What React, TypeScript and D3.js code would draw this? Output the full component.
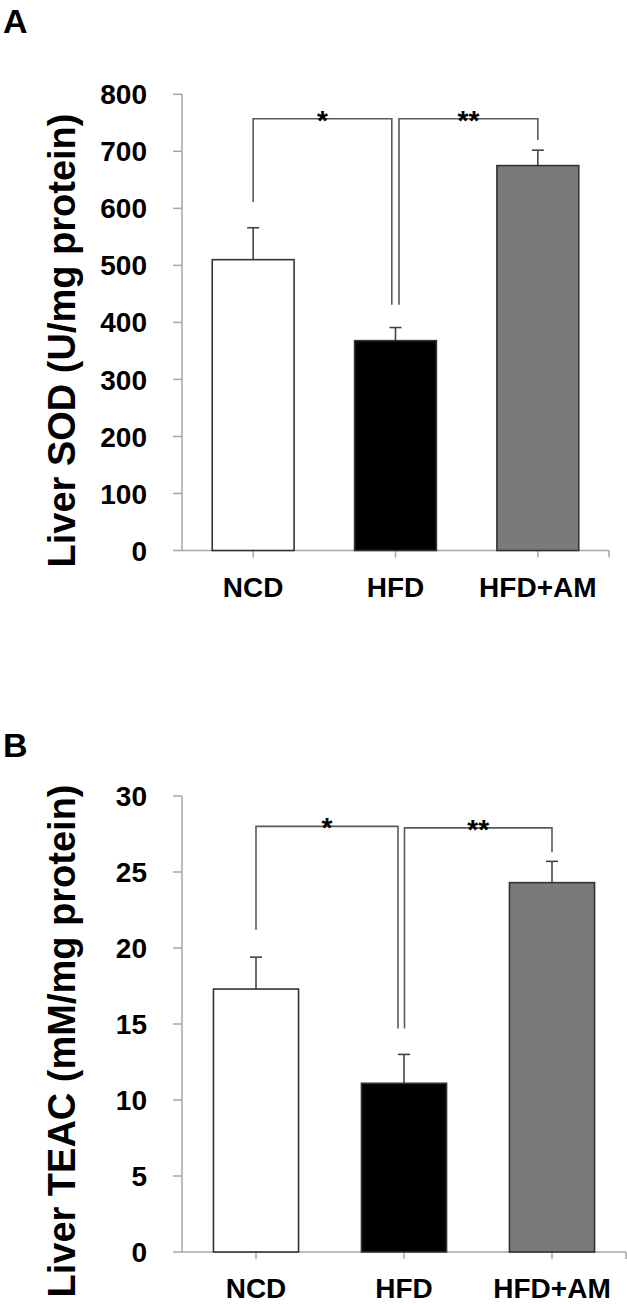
import React from "react";
import * as d3 from "d3";

const categories = ["NCD", "HFD", "HFD+AM"];

// Panel A: Liver SOD (U/mg protein)
const sodMeans = [510, 368, 675];
const sodErrors = [56, 23, 27];
const sodTicks = [0, 100, 200, 300, 400, 500, 600, 700, 800];

// Panel B: Liver TEAC (mM/mg protein)
const teacMeans = [17.3, 11.1, 24.3];
const teacErrors = [2.1, 1.9, 1.4];
const teacTicks = [0, 5, 10, 15, 20, 25, 30];

// significance brackets: [from, to, top value, left-end value, right-end value, label]
const sodBrackets: [number, number, number, number, number, string][] = [
  [0, 1, 757, 611, 431, "*"],
  [1, 2, 757, 431, 720, "**"],
];
const teacBrackets: [number, number, number, number, number, string][] = [
  [0, 1, 28.0, 21.2, 14.7, "*"],
  [1, 2, 27.9, 14.7, 26.3, "**"],
];

const barFills = ["#ffffff", "#000000", "#7a7a7a"];
const FONT = "'Liberation Sans', Arial, Helvetica, sans-serif";

type PanelProps = {
  letter: string;
  letterY: number;
  title: string;
  means: number[];
  errors: number[];
  ticks: number[];
  brackets: [number, number, number, number, number, string][];
  yTop: number;
  yBottom: number;
  xLeft: number;
  xRight: number;
  titleCenterY: number;
  dblOffsets: [number, number];
};

function Panel(p: PanelProps) {
  const maxV = p.ticks[p.ticks.length - 1];
  const y = d3.scaleLinear().domain([0, maxV]).range([p.yBottom, p.yTop]);
  const x = d3.scaleBand<string>().domain(categories).range([p.xLeft, p.xRight]).padding(0);
  const bw = x.bandwidth() * 0.575;
  const cx = (c: string) => (x(c) as number) + x.bandwidth() / 2;
  const axisColor = "#a6a6a6";
  const lineColor = "#5a5a5a";
  return (
    <g>
      <text x={3} y={p.letterY} fontFamily={FONT} fontWeight="bold" fontSize={34} fill="#000">
        {p.letter}
      </text>
      {/* y axis */}
      <line x1={p.xLeft} x2={p.xLeft} y1={y(maxV)} y2={y(0)} stroke={axisColor} strokeWidth={1.5} />
      {p.ticks.map((t) => (
        <g key={t}>
          <line x1={p.xLeft - 9} x2={p.xLeft} y1={y(t)} y2={y(t)} stroke={axisColor} strokeWidth={1.5} />
          <text
            x={p.xLeft - 35}
            y={y(t)}
            dy="0.36em"
            textAnchor="end"
            fontFamily={FONT}
            fontWeight="bold"
            fontSize={28}
            fill="#000"
          >
            {t}
          </text>
        </g>
      ))}
      {/* x axis */}
      <line x1={p.xLeft} x2={p.xRight} y1={y(0)} y2={y(0)} stroke={axisColor} strokeWidth={1.5} />
      {categories.map((c) => (
        <line key={c} x1={cx(c)} x2={cx(c)} y1={y(0)} y2={y(0) + 7} stroke={axisColor} strokeWidth={1.5} />
      ))}
      <line x1={p.xRight} x2={p.xRight} y1={y(0)} y2={y(0) + 7} stroke={axisColor} strokeWidth={1.5} />
      {categories.map((c) => (
        <text
          key={c}
          x={cx(c)}
          y={y(0) + 36}
          dy="0.36em"
          textAnchor="middle"
          fontFamily={FONT}
          fontWeight="bold"
          fontSize={28}
          fill="#000"
        >
          {c}
        </text>
      ))}
      {/* bars */}
      {categories.map((c, i) => (
        <g key={c}>
          <line
            x1={cx(c)}
            x2={cx(c)}
            y1={y(p.means[i])}
            y2={y(p.means[i] + p.errors[i])}
            stroke="#444"
            strokeWidth={1.6}
          />
          <line
            x1={cx(c) - 6}
            x2={cx(c) + 6}
            y1={y(p.means[i] + p.errors[i])}
            y2={y(p.means[i] + p.errors[i])}
            stroke="#444"
            strokeWidth={1.6}
          />
          <rect
            x={cx(c) - bw / 2}
            y={y(p.means[i])}
            width={bw}
            height={y(0) - y(p.means[i])}
            fill={barFills[i]}
            stroke="#333"
            strokeWidth={1.6}
          />
        </g>
      ))}
      {/* brackets */}
      {p.brackets.map((b, k) => {
        const [a, z, top, lv, rv, lab] = b;
        const xa = cx(categories[a]) + (a === 1 ? p.dblOffsets[1] : 0);
        const xz = cx(categories[z]) + (z === 1 ? p.dblOffsets[0] : 0);
        const path = d3.path();
        path.moveTo(xa, y(lv));
        path.lineTo(xa, y(top));
        path.lineTo(xz, y(top));
        path.lineTo(xz, y(rv));
        return (
          <g key={k}>
            <path d={path.toString()} fill="none" stroke={lineColor} strokeWidth={1.6} />
            <text
              x={(xa + xz) / 2}
              y={y(top) + 11}
              textAnchor="middle"
              fontFamily={FONT}
              fontWeight="bold"
              fontSize={28}
              fill="#000"
            >
              {lab}
            </text>
          </g>
        );
      })}
      {/* y title */}
      <text
        transform={`translate(75, ${p.titleCenterY}) rotate(-90)`}
        textAnchor="middle"
        fontFamily={FONT}
        fontWeight="bold"
        fontSize={38}
        fill="#000"
      >
        {p.title}
      </text>
    </g>
  );
}

export default function App() {
  return (
    <svg
      width={627}
      height={1304}
      style={{ position: "absolute", left: 0, top: 0, display: "block", background: "#fff" }}
    >
      <rect width={627} height={1304} fill="#fff" />
      <Panel
        letter="A"
        letterY={33}
        title="Liver SOD (U/mg protein)"
        means={sodMeans}
        errors={sodErrors}
        ticks={sodTicks}
        brackets={sodBrackets}
        yTop={94.3}
        yBottom={550.5}
        xLeft={182}
        xRight={609}
        titleCenterY={340.5}
        dblOffsets={[-3.7, 3.5]}
      />
      <Panel
        letter="B"
        letterY={757}
        title="Liver TEAC (mM/mg protein)"
        means={teacMeans}
        errors={teacErrors}
        ticks={teacTicks}
        brackets={teacBrackets}
        yTop={796}
        yBottom={1252}
        xLeft={182}
        xRight={626}
        titleCenterY={1041}
        dblOffsets={[-6, 0.5]}
      />
    </svg>
  );
}
